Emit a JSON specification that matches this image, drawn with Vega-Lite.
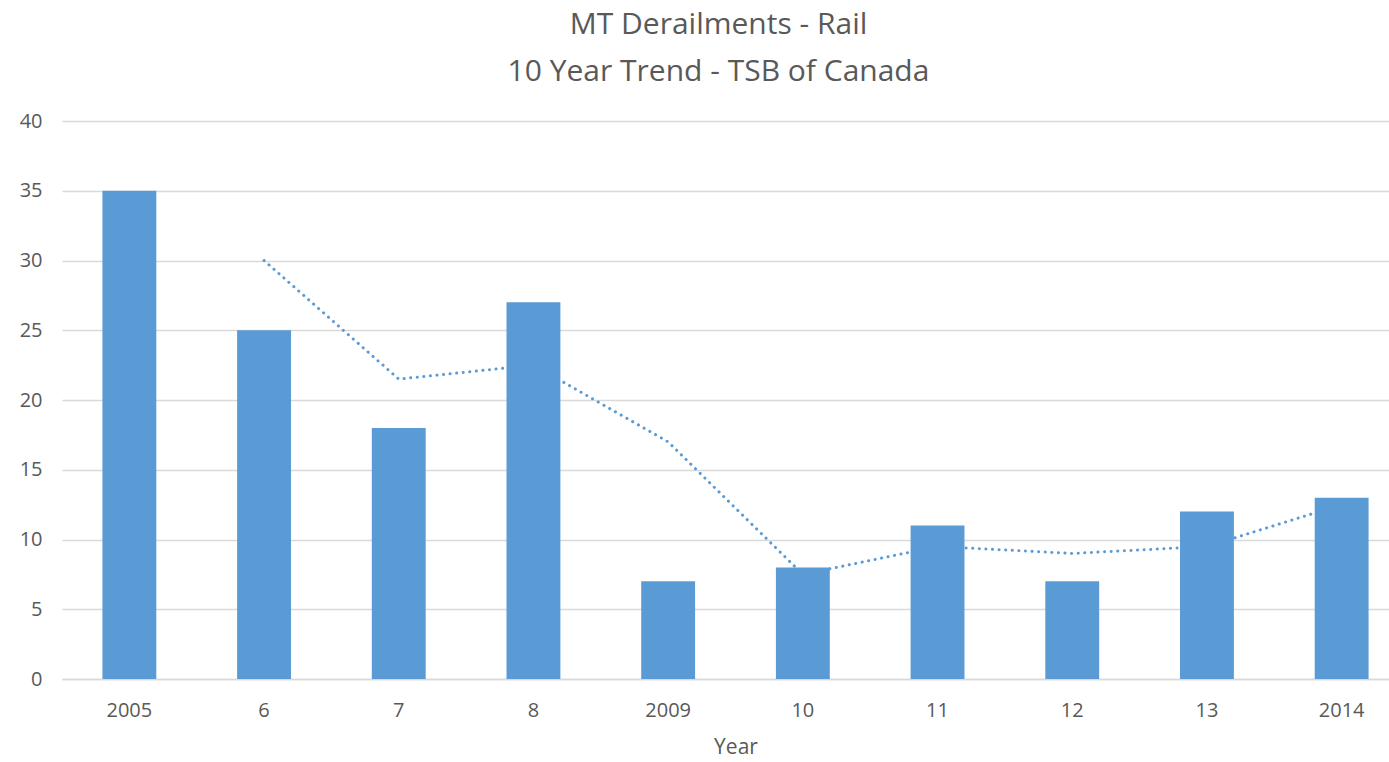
{
  "$schema": "https://vega.github.io/schema/vega-lite/v6.json",
  "autosize": {"type": "none"},
  "padding": {"left": 62, "top": 121, "right": 0, "bottom": 83},
  "width": 1347,
  "height": 558,
  "background": "white",
  "title": {
    "text": ["MT Derailments - Rail", "10 Year Trend - TSB of Canada"],
    "fontSize": 30,
    "font": "Open Sans",
    "fontWeight": "normal",
    "color": "#595959",
    "lineHeight": 47,
    "anchor": "middle",
    "dx": -17,
    "offset": 24
  },
  "data": {
    "values": [
      {"year": "2005", "value": 35, "trend": null},
      {"year": "6", "value": 25, "trend": 30},
      {"year": "7", "value": 18, "trend": 21.5},
      {"year": "8", "value": 27, "trend": 22.5},
      {"year": "2009", "value": 7, "trend": 17},
      {"year": "10", "value": 8, "trend": 7.5},
      {"year": "11", "value": 11, "trend": 9.5},
      {"year": "12", "value": 7, "trend": 9},
      {"year": "13", "value": 12, "trend": 9.5},
      {"year": "2014", "value": 13, "trend": 12.5}
    ]
  },
  "config": {
    "view": {"stroke": null}
  },
  "encoding": {
    "x": {
      "field": "year",
      "type": "nominal",
      "sort": null,
      "title": "Year",
      "scale": {"paddingInner": 0.6, "paddingOuter": 0.3},
      "axis": {
        "labelAngle": 0,
        "ticks": false,
        "domainColor": "#d9d9d9",
        "domainWidth": 1.5,
        "labelPadding": 21,
        "titlePadding": 16,
        "labelFont": "Open Sans",
        "titleFont": "Open Sans",
        "labelColor": "#595959",
        "titleColor": "#595959",
        "labelFontSize": 20,
        "titleFontSize": 21,
        "titleFontWeight": "normal"
      }
    }
  },
  "layer": [
    {
      "mark": {"type": "bar", "color": "#5b9bd5"},
      "encoding": {
        "y": {
          "field": "value",
          "type": "quantitative",
          "title": null,
          "scale": {"domain": [0, 40]},
          "axis": {
            "values": [0, 5, 10, 15, 20, 25, 30, 35, 40],
            "domain": false,
            "ticks": false,
            "gridColor": "#d9d9d9",
            "gridWidth": 1.5,
            "labelPadding": 20,
            "labelFont": "Open Sans",
            "labelColor": "#595959",
            "labelFontSize": 20,
            "labelOverlap": false
          }
        }
      }
    },
    {
      "mark": {
        "type": "line",
        "color": "#5b9bd5",
        "strokeWidth": 3,
        "strokeCap": "round",
        "strokeDash": [0.1, 6.5]
      },
      "encoding": {
        "y": {
          "field": "trend",
          "type": "quantitative",
          "title": null,
          "scale": {"domain": [0, 40]},
          "axis": {
            "values": [0, 5, 10, 15, 20, 25, 30, 35, 40],
            "domain": false,
            "ticks": false,
            "gridColor": "#d9d9d9",
            "gridWidth": 1.5,
            "labelPadding": 20,
            "labelFont": "Open Sans",
            "labelColor": "#595959",
            "labelFontSize": 20,
            "labelOverlap": false
          }
        }
      }
    }
  ]
}
